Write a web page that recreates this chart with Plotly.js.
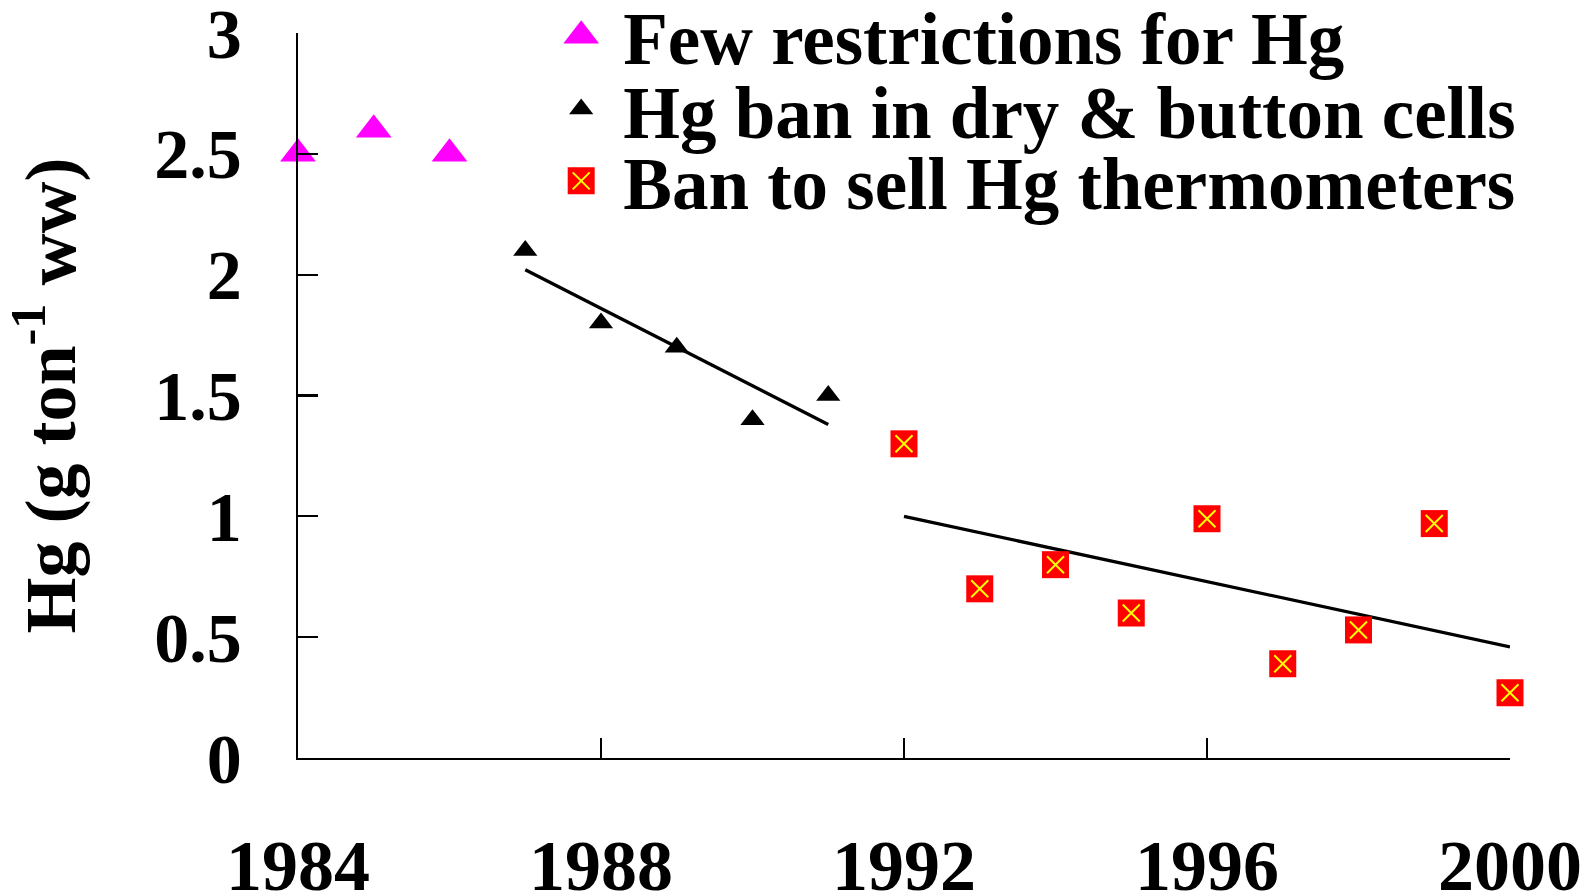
<!DOCTYPE html>
<html><head><meta charset="utf-8">
<script src="https://cdn.plot.ly/plotly-3.0.1.min.js"></script>
<style>html,body{margin:0;padding:0;background:#fff}#chart{width:1591px;height:893px}</style>
</head><body><div id="chart"></div>
<script>
// ---- data ----
const fewYears = [1984, 1985, 1986];
const fewHg = [2.5, 2.6, 2.5];
const cellYears = [1987, 1988, 1989, 1990, 1991];
const cellHg = [2.1, 1.8, 1.7, 1.4, 1.5];
const thermoYears = [1992, 1993, 1994, 1995, 1996, 1997, 1998, 1999, 2000];
const thermoHg = [1.30, 0.70, 0.80, 0.60, 0.99, 0.39, 0.53, 0.97, 0.27];
const trendCellYears = [1987, 1991];
const trendCellHg = [2.02, 1.38];
const trendThermoYears = [1992, 2000];
const trendThermoHg = [1.00, 0.46];
const seriesNames = ['Few restrictions for Hg', 'Hg ban in dry & button cells', 'Ban to sell Hg thermometers'];
const xTickVals = [1984, 1988, 1992, 1996, 2000];
const xTickText = ['1984', '1988', '1992', '1996', '2000'];
const yTickVals = [0, 0.5, 1, 1.5, 2, 2.5, 3];
const yTickText = ['0', '0.5', '1', '1.5', '2', '2.5', '3'];

const FONT = 'Liberation Serif, Times New Roman, serif';

const traces = [
  {x: trendCellYears, y: trendCellHg, mode: 'lines', line: {color: '#000', width: 3.3}, showlegend: false, hoverinfo: 'skip', cliponaxis: false},
  {x: trendThermoYears, y: trendThermoHg, mode: 'lines', line: {color: '#000', width: 3.3}, showlegend: false, hoverinfo: 'skip', cliponaxis: false},
  {x: fewYears, y: fewHg, mode: 'markers', name: seriesNames[0], legend: 'legend',
   marker: {symbol: 'triangle-up', size: 31, color: '#ff00ff', line: {width: 0}}, cliponaxis: false},
  {x: cellYears, y: cellHg, mode: 'markers', name: seriesNames[1], legend: 'legend2',
   marker: {symbol: 'triangle-up', size: 21, color: '#000000', line: {width: 0}}, cliponaxis: false},
  {x: thermoYears, y: thermoHg, mode: 'markers', name: seriesNames[2], legend: 'legend3', legendgroup: 'thermo',
   marker: {symbol: 'square', size: 27, color: '#ff0000', line: {width: 0}}, cliponaxis: false},
  {x: thermoYears, y: thermoHg, mode: 'markers', name: seriesNames[2], legendgroup: 'thermo', showlegend: false,
   marker: {symbol: 'x-thin', size: 17, color: '#ffff00', line: {width: 2, color: '#ffff00'}}, cliponaxis: false}
];

const legendFont = {family: FONT, size: 73, color: '#000', weight: 'bold'};
const legendBase = {xref: 'paper', yref: 'paper', xanchor: 'left', yanchor: 'middle', x: 0.199,
  font: legendFont, bgcolor: 'rgba(0,0,0,0)', borderwidth: 0, itemwidth: 74};

const layout = {
  width: 1591, height: 893,
  margin: {l: 298, r: 81, t: 33, b: 135, pad: 0, autoexpand: false},
  paper_bgcolor: '#fff', plot_bgcolor: '#fff',
  font: {family: FONT, color: '#000', weight: 'bold'},
  showlegend: true,
  legend: Object.assign({}, legendBase, {y: 0.996}),
  legend2: Object.assign({}, legendBase, {y: 0.895}),
  legend3: Object.assign({}, legendBase, {y: 0.796}),
  xaxis: {
    range: [1984, 2000], tickmode: 'array', tickvals: xTickVals, ticktext: xTickText,
    showline: true, linecolor: '#000', linewidth: 2.2, ticks: 'inside', ticklen: 20, tickwidth: 2.2, tickcolor: '#000',
    showgrid: false, zeroline: false, ticklabelstandoff: 43, ticklabeloverflow: 'allow',
    tickfont: {family: FONT, size: 72, color: '#000', weight: 'bold'}, automargin: false
  },
  yaxis: {
    range: [0, 3], tickmode: 'array', tickvals: yTickVals, ticktext: yTickText,
    showline: true, linecolor: '#000', linewidth: 2.2, ticks: 'inside', ticklen: 20, tickwidth: 2.2, tickcolor: '#000',
    showgrid: false, zeroline: false, ticklabelstandoff: 40, ticklabeloverflow: 'allow',
    tickfont: {family: FONT, size: 70, color: '#000', weight: 'bold'}, automargin: false,
    title: {text: 'Hg (g ton<sup>-1</sup> ww)', standoff: 58, font: {family: FONT, size: 72, color: '#000', weight: 'bold'}}
  }
};

Plotly.newPlot('chart', traces, layout, {displayModeBar: false, staticPlot: true}).then(function (gd) {
  // enlarge legend symbols to the size of the plotted markers (Plotly caps them at 16px)
  gd.querySelectorAll('g.traces').forEach(function (g) {
    const d = g.__data__;
    if (!d || !d[0] || !d[0].trace) return;
    const tr = d[0].trace;
    const p = g.querySelector('.legendpoints path.scatterpts');
    if (!p || !tr.marker) return;
    const s = tr.marker.size / 16;
    const t = p.getAttribute('transform') || '';
    p.setAttribute('transform', t + ' scale(' + s + ')');
    if (tr.legendgroup === 'thermo') {
      const x = document.createElementNS('http://www.w3.org/2000/svg', 'path');
      x.setAttribute('d', 'M8.5,8.5L-8.5,-8.5M8.5,-8.5L-8.5,8.5');
      x.setAttribute('transform', t);
      x.setAttribute('style', 'fill:none;stroke:#ffff00;stroke-width:2px');
      p.parentNode.appendChild(x);
    }
  });
});
</script>
</body></html>
